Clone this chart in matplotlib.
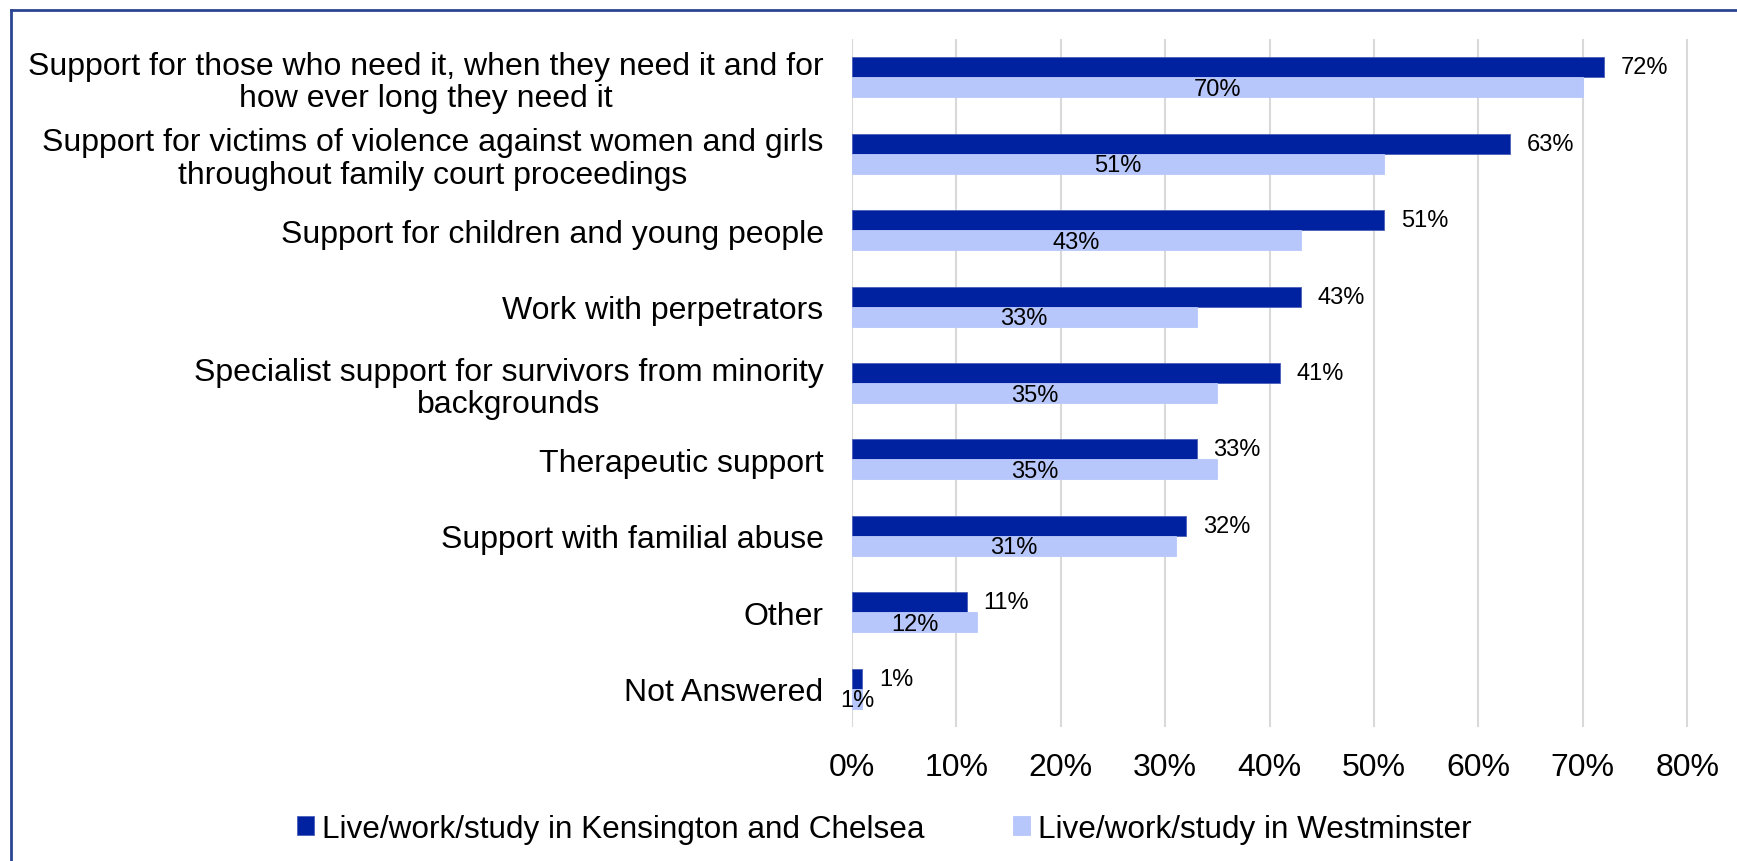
import matplotlib.pyplot as plt
import numpy as np
from matplotlib.lines import Line2D

plt.rcParams['font.family'] = ['Liberation Sans', 'DejaVu Sans']

categories = [
    'Support for those who need it, when they need it and for\nhow ever long they need it',
    'Support for victims of violence against women and girls\nthroughout family court proceedings',
    'Support for children and young people',
    'Work with perpetrators',
    'Specialist support for survivors from minority\nbackgrounds',
    'Therapeutic support',
    'Support with familial abuse',
    'Other',
    'Not Answered',
]
kensington = [72, 63, 51, 43, 41, 33, 32, 11, 1]
westminster = [70, 51, 43, 33, 35, 35, 31, 12, 1]
series_names = ['Live/work/study in Kensington and Chelsea',
                'Live/work/study in Westminster']
xticks = [0, 10, 20, 30, 40, 50, 60, 70, 80]

dark = '#0021A0'
light = '#B8C7FB'

W, H = 1737, 862
fig = plt.figure(figsize=(W / 100, H / 100), dpi=100)
ax = fig.add_axes([852 / W, 1 - 728 / H, 845.6 / W, 688 / H])

y = np.arange(len(categories))
h = 0.2614
b1 = ax.barh(y - h / 2, kensington, height=h, color=dark, edgecolor='#4A5FB8',
             linewidth=0.6, label=series_names[0], zorder=3)
b2 = ax.barh(y + h / 2, westminster, height=h, color=light, edgecolor=light,
             linewidth=0.6, label=series_names[1], zorder=3)

for yi, v in zip(y, kensington):
    ax.annotate(f'{v}%', (v, yi - h / 2), xytext=(12, 0), textcoords='offset points',
                ha='left', va='center', fontsize=17, zorder=4)
for yi, v in zip(y, westminster):
    ax.text(v / 2, yi + h / 2 + 0.02, f'{v}%', ha='center', va='center',
            fontsize=17, zorder=4)

ax.set_xlim(0, 81)
ax.set_ylim(len(categories) - 0.5, -0.5)
ax.set_xticks(xticks)
ax.set_xticklabels([f'{t}%' for t in xticks])
ax.set_yticks(y)
ax.set_yticklabels(categories)
for lbl in ax.get_yticklabels():
    lbl.set_multialignment('center')
    lbl.set_linespacing(1.12)
ax.tick_params(axis='both', length=0, labelsize=23)
ax.tick_params(axis='x', pad=18)
ax.tick_params(axis='y', pad=20.5)
for s in ax.spines.values():
    s.set_visible(False)
for t in xticks:
    ax.axvline(t, color='#D9D9D9', linewidth=1.5, zorder=1)

fig.legend(handles=[b1, b2], loc='center', bbox_to_anchor=(0.509, 1 - 830 / H),
           ncol=2, frameon=False, fontsize=22.7, handlelength=0.55,
           handleheight=0.55, handletextpad=0.25, columnspacing=2.8)

# outer frame (top and left edges)
fc = '#2C4592'
fig.add_artist(Line2D([10.5 / W, 1], [1 - 10.5 / H] * 2, color=fc, linewidth=2,
                      transform=fig.transFigure))
fig.add_artist(Line2D([10.5 / W] * 2, [0, 1 - 10.5 / H], color=fc, linewidth=2,
                      transform=fig.transFigure))

fig.savefig('out.png', dpi=100)
